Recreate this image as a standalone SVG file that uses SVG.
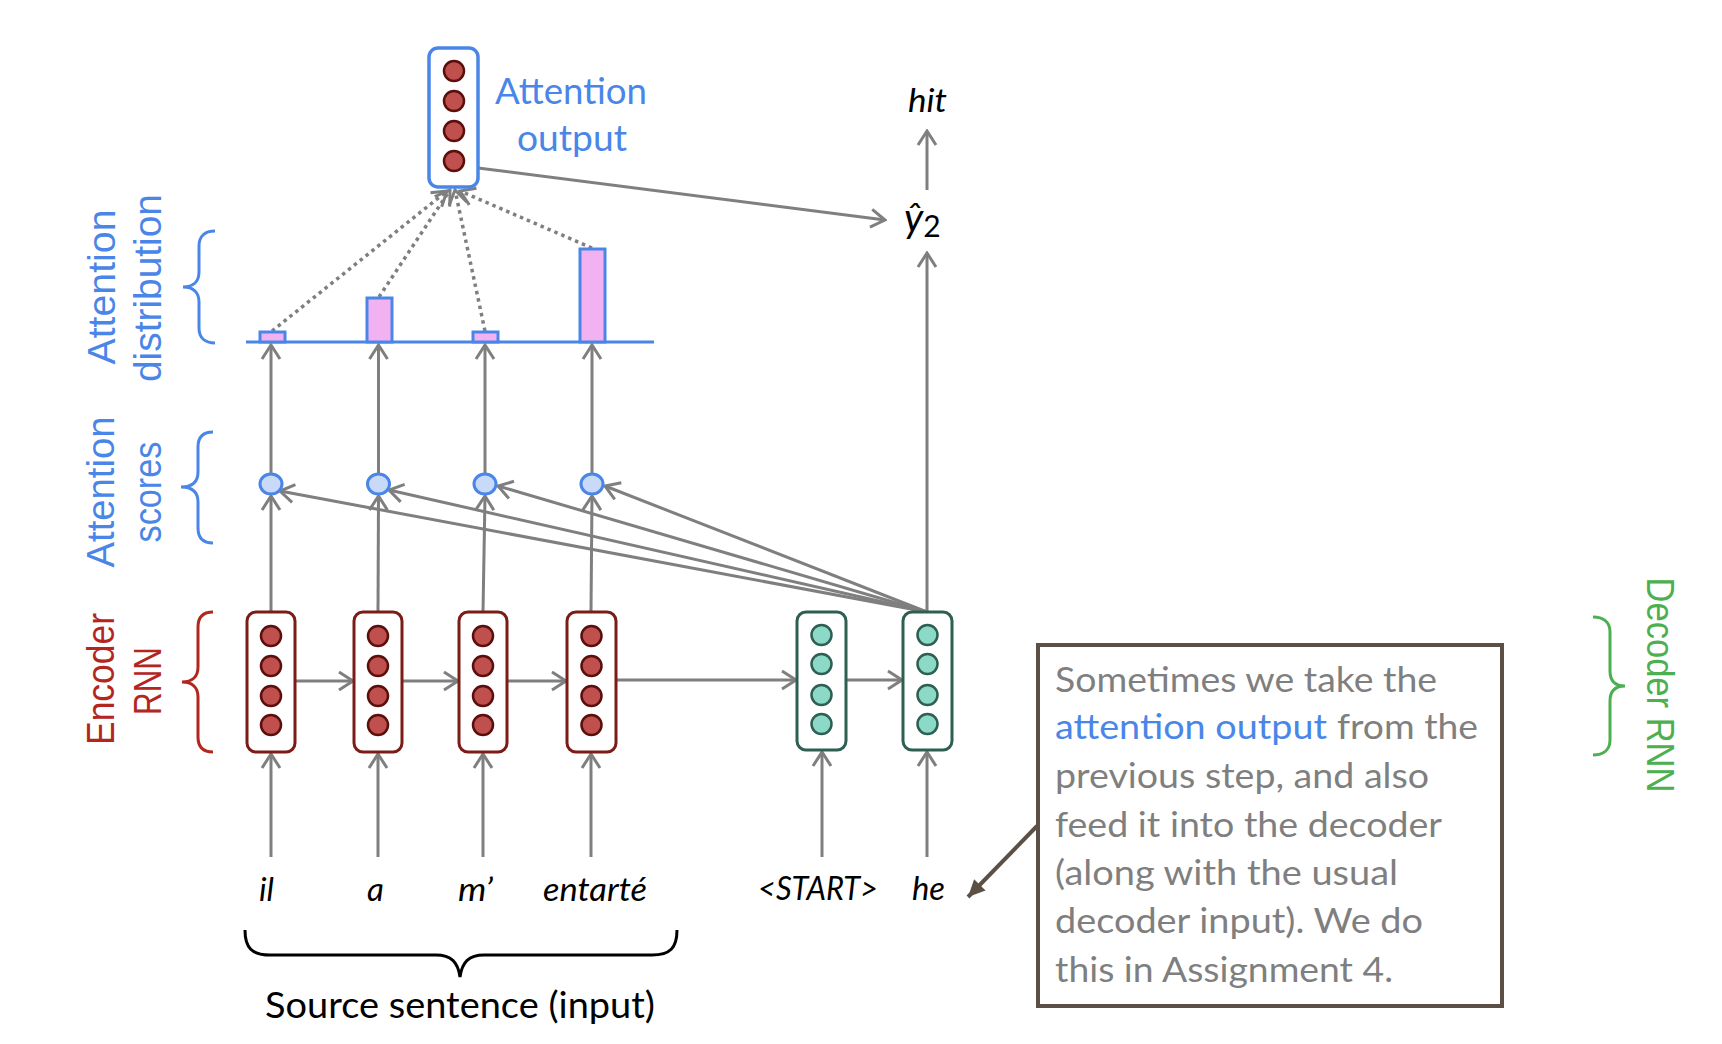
<svg xmlns="http://www.w3.org/2000/svg" width="1722" height="1044" viewBox="0 0 1722 1044">
<defs>
<style>
.conn{stroke:#7f7f7f;stroke-width:3;fill:none;marker-end:url(#chev)}
.dot{stroke:#7f7f7f;stroke-width:3.5;fill:none;stroke-dasharray:3.5 4;marker-end:url(#chev)}
.encbox{fill:#fff;stroke:#7b1c16;stroke-width:3}
.enc{fill:#c0504d;stroke:#5a0f0c;stroke-width:2.5}
.decbox{fill:#fff;stroke:#2d5f52;stroke-width:3}
.dec{fill:#8dd9c8;stroke:#2d5f52;stroke-width:2.5}
.score{fill:#c9daf8;stroke:#4a86e8;stroke-width:3}
.bar{fill:#f2b2f2;stroke:#4a86e8;stroke-width:3}
.brace{fill:none;stroke-width:3}
.cal{font-family:Lato,"Liberation Sans",sans-serif}
.geo{font-family:"Liberation Sans",Arial,sans-serif;font-size:39px}
.word{font-family:Lato,"Liberation Sans",sans-serif;font-style:italic;font-size:33px;fill:#000}
.yhat{font-size:40px}
.sub{font-style:normal;font-size:30px}
.note{font-family:Lato,"Liberation Sans",sans-serif;font-size:35px;fill:#7f7f7f}
.note.hl{fill:#4a86e8}
</style>
<marker id="chev" viewBox="-16 -11 18 22" refX="0" refY="0" markerWidth="18" markerHeight="22" markerUnits="userSpaceOnUse" orient="auto">
<path d="M-14,-9 L0,0 L-14,9" fill="none" stroke="#7f7f7f" stroke-width="3"/>
</marker>
<marker id="tri" viewBox="-18 -9 19 18" refX="0" refY="0" markerWidth="19" markerHeight="18" markerUnits="userSpaceOnUse" orient="auto">
<path d="M-17,-8 L0,0 L-17,8 Z" fill="#5c4f44"/>
</marker>
</defs>
<rect width="1722" height="1044" fill="#fff"/>

<g id="connectors">
<line class="conn" x1="271" y1="857" x2="271" y2="754"/>
<line class="conn" x1="378" y1="857" x2="378" y2="754"/>
<line class="conn" x1="483" y1="857" x2="483" y2="754"/>
<line class="conn" x1="591" y1="857" x2="591" y2="754"/>
<line class="conn" x1="822" y1="857" x2="822" y2="752"/>
<line class="conn" x1="927" y1="857" x2="927" y2="752"/>
<line class="conn" x1="295" y1="681" x2="353" y2="681"/>
<line class="conn" x1="402" y1="681" x2="458" y2="681"/>
<line class="conn" x1="507" y1="681" x2="566" y2="681"/>
<line class="conn" x1="616" y1="680" x2="796" y2="680"/>
<line class="conn" x1="846" y1="680" x2="902" y2="680"/>
<line class="conn" x1="271" y1="612" x2="271" y2="496"/>
<line class="conn" x1="378" y1="612" x2="378.5" y2="496"/>
<line class="conn" x1="483" y1="612" x2="485" y2="496"/>
<line class="conn" x1="591" y1="612" x2="592" y2="496"/>
<line class="conn" x1="927" y1="612" x2="280" y2="491"/>
<line class="conn" x1="927" y1="612" x2="389" y2="490"/>
<line class="conn" x1="927" y1="612" x2="498" y2="486"/>
<line class="conn" x1="927" y1="612" x2="605" y2="486"/>
<line class="conn" x1="271" y1="473" x2="271" y2="345"/>
<line class="conn" x1="378.5" y1="473" x2="378.5" y2="345"/>
<line class="conn" x1="485" y1="473" x2="485" y2="345"/>
<line class="conn" x1="592" y1="473" x2="592" y2="345"/>
<line class="dot" x1="272" y1="331" x2="447" y2="191"/>
<line class="dot" x1="379" y1="297" x2="450" y2="190"/>
<line class="dot" x1="485" y1="331" x2="455" y2="190"/>
<line class="dot" x1="592" y1="248" x2="460" y2="191"/>
<line class="conn" x1="478" y1="168" x2="885" y2="220"/>
<line class="conn" x1="927" y1="612" x2="927" y2="253"/>
<line class="conn" x1="927" y1="190" x2="927" y2="131"/>
<line x1="1037" y1="826" x2="968" y2="897" stroke="#5c4f44" stroke-width="4" marker-end="url(#tri)"/>
</g>

<g id="attention-output">
<rect x="429" y="48" width="49" height="139" rx="9" fill="#fff" stroke="#4a86e8" stroke-width="3.5"/>
<circle class="enc" cx="454" cy="71" r="10"/>
<circle class="enc" cx="454" cy="101" r="10"/>
<circle class="enc" cx="454" cy="131" r="10"/>
<circle class="enc" cx="454" cy="161" r="10"/>
<text class="cal" font-size="37" fill="#4a86e8" text-anchor="middle" x="571" y="104" textLength="152" lengthAdjust="spacingAndGlyphs">Attention</text>
<text class="cal" font-size="37" fill="#4a86e8" text-anchor="middle" x="572" y="151" textLength="110" lengthAdjust="spacingAndGlyphs">output</text>
</g>

<g id="attention-distribution">
<line x1="246" y1="342" x2="654" y2="342" stroke="#4a86e8" stroke-width="3"/>
<rect class="bar" x="260" y="332" width="25" height="10"/>
<rect class="bar" x="367" y="298" width="25" height="44"/>
<rect class="bar" x="473" y="332" width="25" height="10"/>
<rect class="bar" x="580" y="249" width="25" height="93"/>
</g>

<g id="attention-scores">
<ellipse class="score" cx="271" cy="484" rx="11" ry="10"/>
<ellipse class="score" cx="378.5" cy="484" rx="11" ry="10"/>
<ellipse class="score" cx="485" cy="484" rx="11" ry="10"/>
<ellipse class="score" cx="592" cy="484" rx="11" ry="10"/>
</g>

<g id="encoder-1">
<rect class="encbox" x="247" y="612" width="48" height="140" rx="9"/>
<circle class="enc" cx="271" cy="636" r="10"/><circle class="enc" cx="271" cy="666" r="10"/><circle class="enc" cx="271" cy="696" r="10"/><circle class="enc" cx="271" cy="725" r="10"/>
</g>
<g id="encoder-2">
<rect class="encbox" x="354" y="612" width="48" height="140" rx="9"/>
<circle class="enc" cx="378" cy="636" r="10"/><circle class="enc" cx="378" cy="666" r="10"/><circle class="enc" cx="378" cy="696" r="10"/><circle class="enc" cx="378" cy="725" r="10"/>
</g>
<g id="encoder-3">
<rect class="encbox" x="459" y="612" width="48" height="140" rx="9"/>
<circle class="enc" cx="483" cy="636" r="10"/><circle class="enc" cx="483" cy="666" r="10"/><circle class="enc" cx="483" cy="696" r="10"/><circle class="enc" cx="483" cy="725" r="10"/>
</g>
<g id="encoder-4">
<rect class="encbox" x="567" y="612" width="49" height="140" rx="9"/>
<circle class="enc" cx="591.5" cy="636" r="10"/><circle class="enc" cx="591.5" cy="666" r="10"/><circle class="enc" cx="591.5" cy="696" r="10"/><circle class="enc" cx="591.5" cy="725" r="10"/>
</g>
<g id="decoder-1">
<rect class="decbox" x="797" y="612" width="49" height="138" rx="9"/>
<circle class="dec" cx="821.5" cy="635" r="10"/><circle class="dec" cx="821.5" cy="664" r="10"/><circle class="dec" cx="821.5" cy="695" r="10"/><circle class="dec" cx="821.5" cy="724" r="10"/>
</g>
<g id="decoder-2">
<rect class="decbox" x="903" y="612" width="49" height="138" rx="9"/>
<circle class="dec" cx="927.5" cy="635" r="10"/><circle class="dec" cx="927.5" cy="664" r="10"/><circle class="dec" cx="927.5" cy="695" r="10"/><circle class="dec" cx="927.5" cy="724" r="10"/>
</g>

<g id="labels-left">
<path class="brace" stroke="#4a86e8" d="M215,231 C205,231 199,236 199,246 L199,272 C199,282 193,287 183,287 C193,287 199,292 199,302 L199,328 C199,338 205,343 215,343"/>
<text class="geo" fill="#4a86e8" text-anchor="middle" transform="translate(115,287) rotate(-90)" textLength="155" lengthAdjust="spacingAndGlyphs">Attention</text>
<text class="geo" fill="#4a86e8" text-anchor="middle" transform="translate(161,288) rotate(-90)" textLength="188" lengthAdjust="spacingAndGlyphs">distribution</text>
<path class="brace" stroke="#4a86e8" d="M213,432 C203,432 198,437 198,447 L198,472 C198,482 192,487 181,487 C192,487 198,492 198,502 L198,528 C198,538 203,543 213,543"/>
<text class="geo" fill="#4a86e8" text-anchor="middle" transform="translate(114,492) rotate(-90)" textLength="151" lengthAdjust="spacingAndGlyphs">Attention</text>
<text class="geo" fill="#4a86e8" text-anchor="middle" transform="translate(161,492) rotate(-90)" textLength="101" lengthAdjust="spacingAndGlyphs">scores</text>
<path class="brace" stroke="#b3261e" d="M213,612 C203,612 198,617 198,627 L198,667 C198,677 192,682 182,682 C192,682 198,687 198,697 L198,737 C198,747 203,752 213,752"/>
<text class="geo" fill="#b3261e" text-anchor="middle" transform="translate(114,679) rotate(-90)" textLength="132" lengthAdjust="spacingAndGlyphs">Encoder</text>
<text class="geo" fill="#b3261e" text-anchor="middle" transform="translate(161,681) rotate(-90)" textLength="68" lengthAdjust="spacingAndGlyphs">RNN</text>
</g>

<g id="label-decoder">
<path class="brace" stroke="#4caf50" d="M1593,617 C1603,617 1610,622 1610,632 L1610,671 C1610,681 1615,686 1625,686 C1615,686 1610,691 1610,701 L1610,740 C1610,750 1603,755 1593,755"/>
<text class="geo" fill="#4caf50" text-anchor="middle" transform="translate(1647,685) rotate(90)" textLength="215" lengthAdjust="spacingAndGlyphs">Decoder RNN</text>
</g>

<g id="output-words">
<text class="word" x="908" y="112" textLength="39" lengthAdjust="spacingAndGlyphs">hit</text>
<text class="word yhat" x="904" y="232">ŷ<tspan class="sub" dy="5">2</tspan></text>
</g>

<g id="source-words">
<text class="word" x="259" y="901">il</text>
<text class="word" x="367" y="901">a</text>
<text class="word" x="458" y="901" textLength="35" lengthAdjust="spacingAndGlyphs">m’</text>
<text class="word" x="543" y="901" textLength="104" lengthAdjust="spacingAndGlyphs">entarté</text>
<text class="word" x="758" y="900" textLength="120" lengthAdjust="spacingAndGlyphs">&lt;START&gt;</text>
<text class="word" x="912" y="900" textLength="33" lengthAdjust="spacingAndGlyphs">he</text>
<path class="brace" stroke="#000" d="M245,930 C245,948 252,955 270,955 L436,955 C451,955 458,962 460,977 C462,962 469,955 484,955 L652,955 C670,955 677,948 677,930"/>
<text class="cal" font-size="37" fill="#000" x="265" y="1018" textLength="390" lengthAdjust="spacingAndGlyphs">Source sentence (input)</text>
</g>

<g id="note">
<rect x="1038" y="645" width="464" height="361" fill="#fff" stroke="#5c4f44" stroke-width="4"/>
<text class="note" x="1055" y="692" textLength="382" lengthAdjust="spacingAndGlyphs">Sometimes we take the</text>
<text class="note hl" x="1055" y="739" textLength="272" lengthAdjust="spacingAndGlyphs">attention output</text>
<text class="note" x="1337" y="739" textLength="141" lengthAdjust="spacingAndGlyphs">from the</text>
<text class="note" x="1055" y="788" textLength="374" lengthAdjust="spacingAndGlyphs">previous step, and also</text>
<text class="note" x="1055" y="837" textLength="387" lengthAdjust="spacingAndGlyphs">feed it into the decoder</text>
<text class="note" x="1055" y="885" textLength="343" lengthAdjust="spacingAndGlyphs">(along with the usual</text>
<text class="note" x="1055" y="933" textLength="368" lengthAdjust="spacingAndGlyphs">decoder input). We do</text>
<text class="note" x="1055" y="982" textLength="338" lengthAdjust="spacingAndGlyphs">this in Assignment 4.</text>
</g>
</svg>
